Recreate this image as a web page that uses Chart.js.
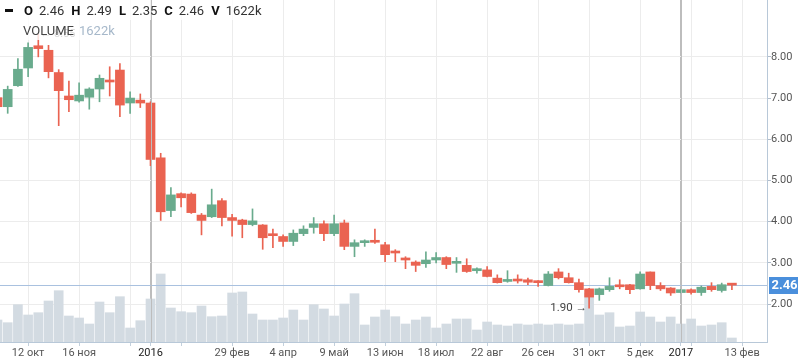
<!DOCTYPE html>
<html><head><meta charset="utf-8">
<script src="https://cdn.jsdelivr.net/npm/chart.js@4.4.0/dist/chart.umd.min.js"></script>
<style>
html,body{margin:0;padding:0;background:#fff;}
#wrap{position:relative;width:798px;height:363px;overflow:hidden;}
canvas{display:block;}
.lg{position:absolute;font-family:Roboto,sans-serif;font-size:13px;color:#333;white-space:nowrap;line-height:15px;}
.lg b{color:#111;font-weight:bold;margin-right:6px;}
.lg .v{margin-right:7px;}
.dash{display:inline-block;width:8px;height:3px;background:#111;vertical-align:middle;margin-right:11px;position:relative;top:-1px;}
</style></head><body>
<div id="wrap"><canvas id="c" width="798" height="363"></canvas>
<div class="lg" id="row1" style="left:5px;top:3px"></div>
<div class="lg" id="row2" style="left:23px;top:23px"></div>
</div>
<script>
// ---- data ----
const weeks = [
 '2015-09-21','2015-09-28','2015-10-05','2015-10-12','2015-10-19','2015-10-26','2015-11-02','2015-11-09','2015-11-16','2015-11-23','2015-11-30',
 '2015-12-07','2015-12-14','2015-12-21','2015-12-28',
 '2016-01-04','2016-01-11','2016-01-18','2016-01-25','2016-02-01','2016-02-08','2016-02-15','2016-02-22','2016-02-29',
 '2016-03-07','2016-03-14','2016-03-21','2016-03-28','2016-04-04','2016-04-11','2016-04-18','2016-04-25',
 '2016-05-02','2016-05-09','2016-05-16','2016-05-23','2016-05-30','2016-06-06','2016-06-13','2016-06-20','2016-06-27',
 '2016-07-04','2016-07-11','2016-07-18','2016-07-25','2016-08-01','2016-08-08','2016-08-15','2016-08-22','2016-08-29',
 '2016-09-05','2016-09-12','2016-09-19','2016-09-26','2016-10-03','2016-10-10','2016-10-17','2016-10-24','2016-10-31',
 '2016-11-07','2016-11-14','2016-11-21','2016-11-28','2016-12-05','2016-12-12','2016-12-19','2016-12-26',
 '2017-01-02','2017-01-09','2017-01-16','2017-01-23','2017-01-30','2017-02-06'];
const open  = [7.01,6.79,7.30,7.73,8.27,8.16,7.62,7.05,6.93,7.02,7.22,7.43,7.68,6.88,6.95,
 6.88,5.55,4.27,4.68,4.67,4.16,4.12,4.51,4.10,4.04,3.93,3.92,3.69,3.64,3.52,3.71,3.86,3.95,3.71,3.97,3.40,3.49,3.53,3.44,3.26,
 3.12,3.02,2.98,3.07,3.13,2.99,2.94,2.81,2.83,2.63,2.55,2.59,2.59,2.56,2.45,2.78,2.64,2.52,2.37,2.23,2.35,2.44,2.47,2.37,2.78,2.45,2.39,
 2.28,2.35,2.28,2.43,2.33,2.46];
const high  = [7.05,7.29,7.96,8.34,8.55,8.28,7.69,7.41,7.37,7.25,7.56,7.76,7.84,7.15,7.10,
 6.91,5.66,4.83,4.70,4.70,4.20,4.79,4.56,4.18,4.06,4.31,3.93,3.82,3.68,3.80,3.90,4.10,4.02,4.16,4.04,3.56,3.56,3.82,3.50,3.32,
 3.15,3.05,3.27,3.25,3.15,3.13,3.10,2.88,2.91,2.71,2.81,2.71,2.63,2.57,2.79,2.86,2.75,2.61,2.38,2.39,2.64,2.59,2.48,2.78,2.78,2.52,2.40,
 2.36,2.37,2.44,2.52,2.51,2.49];
const low   = [6.70,6.63,7.28,7.52,8.00,7.49,6.33,6.67,6.90,6.73,6.91,7.05,6.55,6.63,6.77,
 5.36,4.03,4.12,4.36,4.20,3.68,4.10,3.90,3.65,3.61,3.90,3.33,3.37,3.40,3.42,3.66,3.72,3.54,3.66,3.32,3.15,3.40,3.47,3.03,3.03,
 2.86,2.79,2.89,3.00,2.86,2.77,2.77,2.75,2.66,2.51,2.53,2.51,2.47,2.43,2.44,2.61,2.51,2.29,1.90,2.09,2.31,2.37,2.25,2.36,2.35,2.33,2.21,
 2.27,2.24,2.21,2.31,2.29,2.35];
const close = [6.79,7.21,7.70,8.23,8.20,7.64,7.18,6.96,7.07,7.22,7.48,7.39,6.83,7.00,6.88,
 5.51,4.24,4.65,4.58,4.22,4.03,4.41,4.10,4.03,3.93,4.02,3.61,3.66,3.52,3.72,3.82,3.95,3.71,3.95,3.40,3.49,3.52,3.50,3.20,3.24,
 3.07,2.94,3.07,3.13,2.96,3.02,2.79,2.86,2.67,2.52,2.59,2.56,2.53,2.52,2.73,2.64,2.52,2.35,2.17,2.37,2.43,2.42,2.35,2.73,2.45,2.37,2.27,
 2.35,2.28,2.41,2.35,2.47,2.46];
const volume = [8910,7820,15110,10940,11870,16610,20780,10530,9720,7290,16200,11870,18350,5670,8630,
 17420,27540,13770,12270,11870,14580,10250,10530,19850,20250,11340,8910,8910,9720,12960,8910,15110,13370,10530,15390,19560,6890,10130,12960,10250,
 7290,8910,10130,5670,7290,9320,9320,4860,8100,6890,6480,7290,6890,7290,6890,7290,6890,7290,19720,10940,11870,6080,6480,12150,10130,8100,10130,
 7290,9320,6480,6890,7820,1622]; // thousands
const tickDates  = ['2015-10-12','2015-11-16','2015-12-21','2016-01-04','2016-01-25','2016-02-29','2016-04-04','2016-05-09','2016-06-13',
 '2016-07-18','2016-08-22','2016-09-26','2016-10-31','2016-12-05','2017-01-02','2017-01-09','2017-02-13'];
const tickLabels = ['12 окт','16 ноя','','2016','','29 фев','4 апр','9 май','13 июн','18 июл','22 авг','26 сен','31 окт','5 дек','2017','','13 фев'];
const yearTicks  = ['2016-01-04','2017-01-02'];
const priceTicks = [2,3,4,5,6,7,8];

// ---- helpers ----
const W0 = Date.UTC(2016,0,4);
const wk = d => Math.round((Date.parse(d) - W0) / 6048e5);
const UP = '#69ab8d', DOWN = '#ea6351';
const xs = weeks.map(wk);
const col = close.map((c,i) => c > open[i] ? UP : DOWN);
const yearW = yearTicks.map(wk);
const isYear = v => yearW.indexOf(v) >= 0;
const last = close.length - 1;
const FONT = 'Roboto, sans-serif';

// legend text
const f2 = v => v.toFixed(2);
document.getElementById('row1').innerHTML =
 '<span class="dash"></span><b>O</b><span class="v">'+f2(open[last])+'</span><b>H</b><span class="v">'+f2(high[last])+
 '</span><b>L</b><span class="v">'+f2(low[last])+'</span><b>C</b><span class="v">'+f2(close[last])+
 '</span><b>V</b><span class="v">'+volume[last]+'k</span>';
document.getElementById('row2').innerHTML =
 '<span style="color:#444">VOLUME</span><span style="color:#a6b8ca;margin-left:5px">'+volume[last]+'k</span>';

let hi = 0, lo = 0;
high.forEach((v,i)=>{ if (v > high[hi]) hi = i; });
low.forEach((v,i)=>{ if (v < low[lo]) lo = i; });

const deco = {
 id: 'deco',
 afterDatasetDraw(chart, args) {
  if (args.index !== 0) return;
  const c = chart.ctx, a = chart.chartArea, y = Math.round(chart.scales.y.getPixelForValue(close[last])) + 0.5;
  c.save(); c.strokeStyle = '#a9c1df'; c.lineWidth = 1;
  c.beginPath(); c.moveTo(a.left, y); c.lineTo(a.right, y); c.stroke(); c.restore();
 },
 afterDatasetsDraw(chart) {
  const c = chart.ctx, xS = chart.scales.x, yS = chart.scales.y, a = chart.chartArea;
  c.save();
  c.font = '11.5px ' + FONT; c.fillStyle = '#444'; c.textBaseline = 'middle';
  c.textAlign = 'right';
  c.fillText(f2(low[lo]) + ' \u2192', xS.getPixelForValue(xs[lo]) - 2, yS.getPixelForValue(low[lo]));
  c.textAlign = 'left';
  c.font = '11px ' + FONT;
  c.fillText('\u2190 ' + f2(high[hi]), xS.getPixelForValue(xs[hi]) + 2, yS.getPixelForValue(high[hi]));
  // legend background
  c.fillStyle = 'rgba(255,255,255,0.8)';
  c.fillRect(0, 0, 255, 20);
  c.fillRect(0, 20, 116, 20);
  // year separators on top
  c.strokeStyle = '#bdbdbd'; c.lineWidth = 1;
  yearW.forEach(w => {
   const x = Math.round(xS.getPixelForValue(w)) + 0.5;
   c.beginPath(); c.moveTo(x, a.top); c.lineTo(x, a.bottom); c.stroke();
  });
  c.restore();
 },
 afterDraw(chart) {
  const c = chart.ctx, y = chart.scales.y.getPixelForValue(close[last]), a = chart.chartArea;
  c.save();
  c.fillStyle = '#4a8fdc';
  c.fillRect(a.right + 2, Math.round(y) - 8, chart.width - a.right - 2, 17);
  c.fillStyle = '#fff'; c.font = 'bold 13px ' + FONT; c.textAlign = 'center'; c.textBaseline = 'middle';
  c.fillText(f2(close[last]), (a.right + 2 + chart.width) / 2 + 1, Math.round(y) + 0.5);
  c.restore();
 }
};

new Chart(document.getElementById('c'), {
 type: 'bar',
 data: { datasets: [
  { label:'vol', data: xs.map((x,i)=>({x, y: volume[i]})), yAxisID:'yv', backgroundColor:'#d3dbe2',
    barThickness:9, grouped:false, order:3 },
  { label:'wick', data: xs.map((x,i)=>({x, y:[low[i], high[i]]})), yAxisID:'y', backgroundColor: col,
    barThickness:1, grouped:false, order:2 },
  { label:'body', data: xs.map((x,i)=>({x, y:[open[i], close[i]]})), yAxisID:'y', backgroundColor: col,
    barThickness:9, grouped:false, minBarLength:2, order:1 }
 ]},
 options: {
  responsive:false, animation:false, devicePixelRatio:1,
  layout:{padding:0},
  plugins:{legend:{display:false}, tooltip:{enabled:false}},
  scales:{
   x:{ type:'linear', min:-14.755, max:60.44, offset:false,
       grid:{ offset:false, color: ctx => (ctx.tick && isYear(ctx.tick.value)) ? '#bdbdbd' : '#ececec',
              tickLength:4, tickColor:'#c3d0dc' },
       border:{ color:'#b8c8d8' },
       afterBuildTicks: s => { s.ticks = tickDates.map(d => ({value: wk(d)})); },
       ticks:{ autoSkip:false, maxRotation:0, padding:1,
               color: ctx => (ctx.tick && isYear(ctx.tick.value)) ? '#222' : '#555',
               font:{ family:FONT, size:11 }, callback:(v,i) => tickLabels[i] },
       afterFit: s => { s.height = 21; s.paddingLeft = 0; s.paddingRight = 0; } },
   y:{ position:'right', min:1.08, max:9.38,
       afterBuildTicks: s => { s.ticks = priceTicks.map(v => ({value:v})); },
       grid:{ color:'#ececec', tickLength:4, tickColor:'#b0bccb' },
       border:{ color:'#b8c8d8' },
       ticks:{ padding:0, color:'#555', font:{ family:FONT, size:11 }, callback: v => Number(v).toFixed(2) },
       afterFit: s => { s.width = 31; s.paddingTop = 0; s.paddingBottom = 0; } },
   yv:{ display:false, min:0, max:138500 }
  }
 },
 plugins:[deco]
});
</script>
</body></html>
